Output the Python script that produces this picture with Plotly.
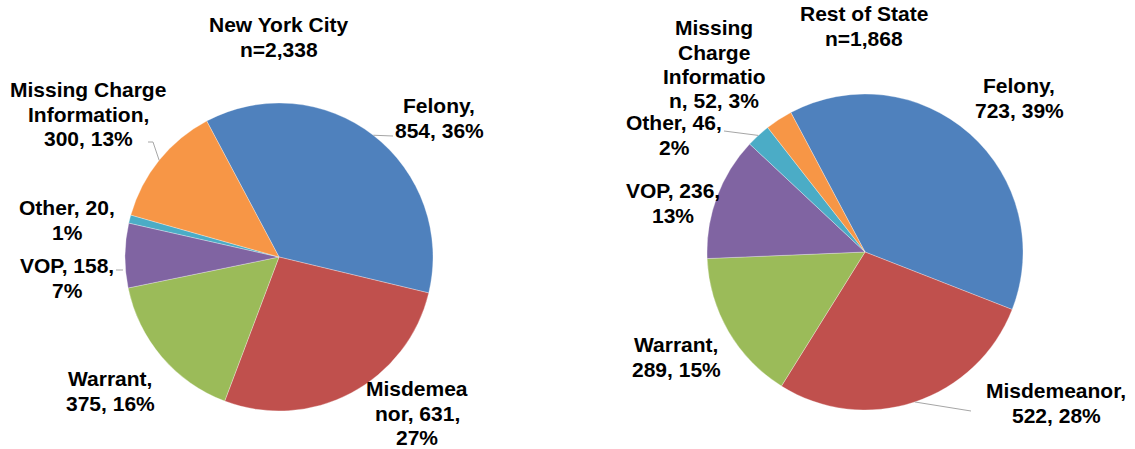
import numpy as np
import plotly.graph_objects as go

# ---------------- data ----------------
categories = ["Felony", "Misdemeanor", "Warrant", "VOP", "Other",
              "Missing Charge Information"]
nyc_values = [854, 631, 375, 158, 20, 300]
nyc_pct = [36, 27, 16, 7, 1, 13]
ros_values = [723, 522, 289, 236, 46, 52]
ros_pct = [39, 28, 15, 13, 2, 3]
titles = ["New York City", "Rest of State"]

# label text layouts (line breaks as wrapped in the original)
nyc_templates = ["Felony,|{v}, {p}%", "Misdemea|nor, {v},|{p}%",
                 "Warrant,|{v}, {p}%", "VOP, {v},|{p}%",
                 "Other, {v},|{p}%", "Missing Charge|Information,|{v}, {p}%"]
ros_templates = ["Felony,|{v}, {p}%", "Misdemeanor,|{v}, {p}%",
                 "Warrant,|{v}, {p}%", "VOP, {v},|{p}%",
                 "Other, {v},|{p}%", "Missing|Charge|Informatio|n, {v}, {p}%"]

# ---------------- style / layout ----------------
colors = ["#4F81BD", "#C0504D", "#9BBB59", "#8064A2", "#4BACC6", "#F79646"]
W, H = 1135, 449
FONT = "Arial, Liberation Sans, sans-serif"
FS = 21          # font size (px)
LS = 24.4        # line spacing (px)
ROT = -28

pies = [
    dict(values=nyc_values, pct=nyc_pct, tmpl=nyc_templates, title=titles[0],
         cx=279, cy=257, r=154, title_pos=(279, 32),
         # (center x, first baseline y)
         label_pos=[(439, 113), (417, 396), (110, 386), (67, 273), (67, 215), (88, 97)],
         leaders={0: [(393, 136)], 5: [(153, 142), (148, 142)]},
         free_leaders=[[(116, 270), (123, 270)]]),
    dict(values=ros_values, pct=ros_pct, tmpl=ros_templates, title=titles[1],
         cx=865, cy=252, r=158, title_pos=(864, 21),
         label_pos=[(1019, 93), (1056, 398), (676, 352), (673, 198), (674, 130), (714, 35)],
         leaders={1: [(971, 411)], 4: [(724, 131)]},
         free_leaders=[]),
]


def px(x, y):
    return x / W, 1 - y / H


def text_lines(lines, cx, base_y, annotations):
    for i, line in enumerate(lines):
        bx = base_y + i * LS
        x, y = px(cx, bx - 0.3465 * FS)
        annotations.append(dict(
            x=x, y=y, xref="paper", yref="paper", showarrow=False, text=line,
            font=dict(family=FONT, size=FS, color="black", weight="bold"),
            xanchor="center", yanchor="middle", align="center", borderpad=0))


def path_of(pts):
    return "M " + " L ".join(f"{px(a, b)[0]:.5f},{px(a, b)[1]:.5f}" for a, b in pts)


fig = go.Figure()
annotations = []
shapes = []
for p in pies:
    x0, y0 = px(p["cx"] - p["r"], p["cy"] + p["r"])
    x1, y1 = px(p["cx"] + p["r"], p["cy"] - p["r"])
    fig.add_trace(go.Pie(
        labels=categories, values=p["values"], sort=False,
        direction="clockwise", rotation=ROT,
        marker=dict(colors=colors, line=dict(color="rgba(255,255,255,0.6)", width=0.5)),
        textinfo="none", hoverinfo="label+value+percent",
        domain=dict(x=[x0, x1], y=[y0, y1]), showlegend=False,
    ))
    text_lines([p["title"], f"n={sum(p['values']):,}"], *p["title_pos"], annotations)
    for tmpl, v, pc, (lx, ly) in zip(p["tmpl"], p["values"], p["pct"], p["label_pos"]):
        text_lines(tmpl.format(v=v, p=pc).split("|"), lx, ly, annotations)
    # leader lines from slice mid-angle on the rim to the label
    tot = float(sum(p["values"]))
    cum = np.cumsum([0] + p["values"])
    for idx, pts in p["leaders"].items():
        mid = np.deg2rad(ROT + 360 * (cum[idx] + cum[idx + 1]) / 2 / tot)
        ex = p["cx"] + p["r"] * np.sin(mid)
        ey = p["cy"] - p["r"] * np.cos(mid)
        shapes.append(dict(type="path", path=path_of([(ex, ey)] + pts),
                           xref="paper", yref="paper",
                           line=dict(color="#a6a6a6", width=1)))
    for pts in p["free_leaders"]:
        shapes.append(dict(type="path", path=path_of(pts), xref="paper", yref="paper",
                           line=dict(color="#a6a6a6", width=1)))

fig.update_layout(
    width=W, height=H, margin=dict(l=0, r=0, t=0, b=0),
    paper_bgcolor="white", plot_bgcolor="white",
    annotations=annotations, shapes=shapes,
)
fig.write_html("out.html", config={"displayModeBar": False},
               post_script="document.body.style.margin='0';document.body.style.overflow='hidden';")
